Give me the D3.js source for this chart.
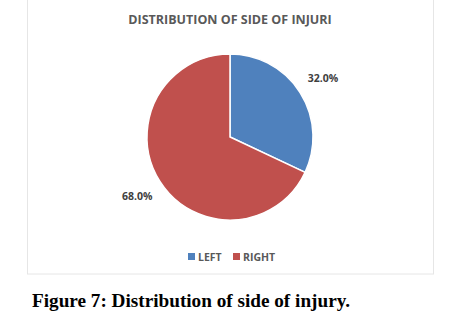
<!DOCTYPE html>
<html>
<head>
<meta charset="utf-8">
<script src="https://cdn.jsdelivr.net/npm/d3@7"></script>
<style>
  body { margin: 0; background: #fff; }
  svg { display: block; }
</style>
</head>
<body>
<script>
const categories = ['LEFT', 'RIGHT'];
const values = [32.0, 68.0];
const colors = ['#4F81BD', '#C0504D'];
const title = 'DISTRIBUTION OF SIDE OF INJURI';
const caption = 'Figure 7: Distribution of side of injury.';

const width = 457, height = 322;
const svg = d3.select('body').append('svg')
    .attr('width', width)
    .attr('height', height);

// chart frame
svg.append('rect')
    .attr('x', 27.5).attr('y', -1)
    .attr('width', 406).attr('height', 275)
    .attr('fill', '#fff')
    .attr('stroke', '#e6e6e6');

svg.append('text')
    .attr('x', 230).attr('y', 24)
    .attr('text-anchor', 'middle')
    .attr('font-family', 'Open Sans, sans-serif')
    .attr('font-weight', 'bold')
    .attr('font-size', 12.5)
    .attr('fill', '#595959')
    .text(title);

const cx = 230, cy = 137, r = 83;
const data = categories.map((c, i) => ({ name: c, value: values[i], color: colors[i] }));

const pie = d3.pie().value(d => d.value).sort(null);
const arc = d3.arc().innerRadius(0).outerRadius(r);
const arcs = pie(data);

const g = svg.append('g').attr('transform', `translate(${cx},${cy})`);
g.selectAll('path')
    .data(arcs)
    .enter()
    .append('path')
    .attr('d', arc)
    .attr('fill', d => d.data.color)
    .attr('stroke', '#fff')
    .attr('stroke-width', 1.5);

const labelArc = d3.arc().innerRadius(r + 27).outerRadius(r + 27);
g.selectAll('text.lbl')
    .data(arcs)
    .enter()
    .append('text')
    .attr('class', 'lbl')
    .attr('transform', d => `translate(${labelArc.centroid(d)})`)
    .attr('dy', '0.35em')
    .attr('text-anchor', 'middle')
    .attr('font-family', 'Open Sans, sans-serif')
    .attr('font-weight', 'bold')
    .attr('font-size', 10.5)
    .attr('fill', '#404040')
    .text(d => d.data.value.toFixed(1) + '%');

// legend
const legend = svg.append('g').attr('transform', 'translate(188,257)');
const items = legend.selectAll('g')
    .data(data)
    .enter()
    .append('g')
    .attr('transform', (d, i) => `translate(${i * 45},0)`);
items.append('rect')
    .attr('x', 0).attr('y', -4)
    .attr('width', 7).attr('height', 7)
    .attr('fill', d => d.color);
items.append('text')
    .attr('x', 10).attr('y', 0)
    .attr('dy', '0.35em')
    .attr('font-family', 'Open Sans, sans-serif')
    .attr('font-weight', 'bold')
    .attr('font-size', 10.5)
    .attr('fill', '#595959')
    .text(d => d.name);

svg.append('text')
    .attr('x', 32).attr('y', 307)
    .attr('font-family', 'Liberation Serif, serif')
    .attr('font-weight', 'bold')
    .attr('font-size', 19)
    .attr('textLength', 318)
    .attr('lengthAdjust', 'spacingAndGlyphs')
    .attr('fill', '#000')
    .text(caption);
</script>
</body>
</html>
